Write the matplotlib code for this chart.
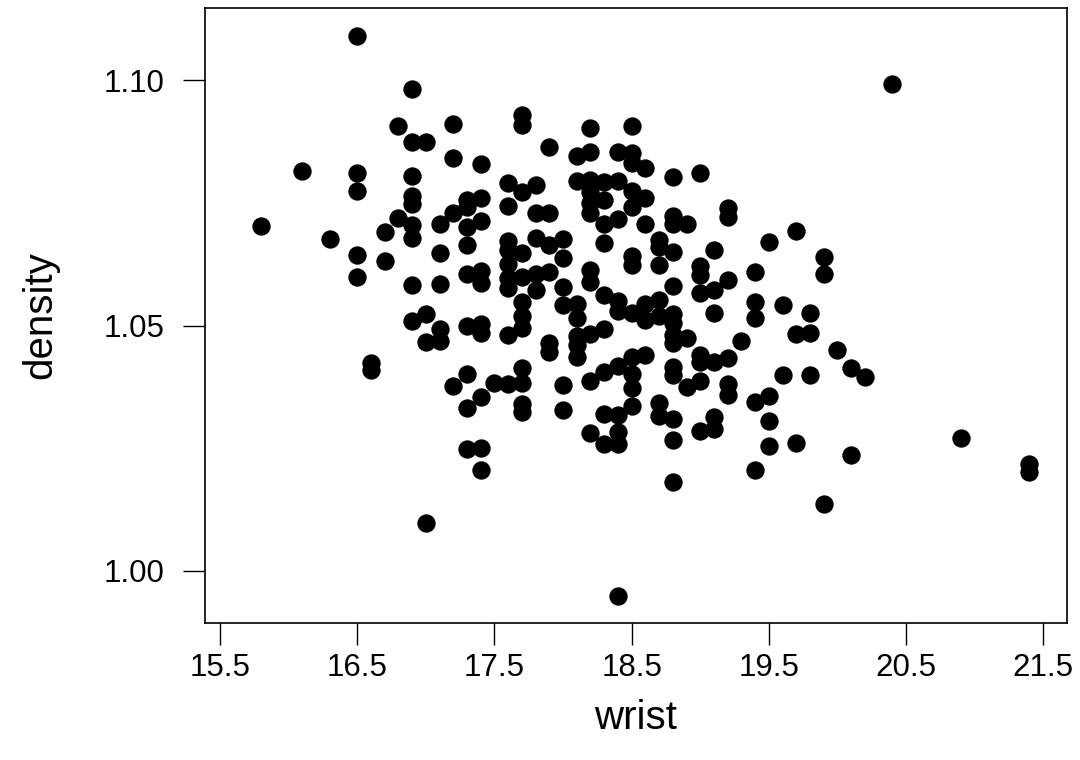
import matplotlib.pyplot as plt

# wrist circumference (cm) and body density (g/cm^3), one row per wrist value
wrist = [
    15.8,
    16.1,
    16.3,
    16.5, 16.5, 16.5, 16.5, 16.5,
    16.6, 16.6,
    16.7, 16.7,
    16.8, 16.8,
    16.9, 16.9, 16.9, 16.9, 16.9, 16.9, 16.9, 16.9, 16.9,
    17.0, 17.0, 17.0, 17.0,
    17.1, 17.1, 17.1, 17.1, 17.1,
    17.2, 17.2, 17.2, 17.2,
    17.3, 17.3, 17.3, 17.3, 17.3, 17.3, 17.3, 17.3, 17.3,
    17.4, 17.4, 17.4, 17.4, 17.4, 17.4, 17.4, 17.4, 17.4, 17.4,
    17.5,
    17.6, 17.6, 17.6, 17.6, 17.6, 17.6, 17.6, 17.6, 17.6,
    17.7, 17.7, 17.7, 17.7, 17.7, 17.7, 17.7, 17.7, 17.7, 17.7, 17.7, 17.7,
    17.8, 17.8, 17.8, 17.8, 17.8,
    17.9, 17.9, 17.9, 17.9, 17.9, 17.9,
    18.0, 18.0, 18.0, 18.0, 18.0, 18.0,
    18.1, 18.1, 18.1, 18.1, 18.1, 18.1, 18.1,
    18.2, 18.2, 18.2, 18.2, 18.2, 18.2, 18.2, 18.2, 18.2, 18.2, 18.2,
    18.3, 18.3, 18.3, 18.3, 18.3, 18.3, 18.3, 18.3, 18.3,
    18.4, 18.4, 18.4, 18.4, 18.4, 18.4, 18.4, 18.4, 18.4, 18.4,
    18.5, 18.5, 18.5, 18.5, 18.5, 18.5, 18.5, 18.5, 18.5, 18.5, 18.5, 18.5,
    18.6, 18.6, 18.6, 18.6, 18.6, 18.6,
    18.7, 18.7, 18.7, 18.7, 18.7, 18.7, 18.7,
    18.8, 18.8, 18.8, 18.8, 18.8, 18.8, 18.8, 18.8, 18.8, 18.8, 18.8, 18.8, 18.8, 18.8,
    18.9, 18.9, 18.9,
    19.0, 19.0, 19.0, 19.0, 19.0, 19.0, 19.0, 19.0,
    19.1, 19.1, 19.1, 19.1, 19.1, 19.1,
    19.2, 19.2, 19.2, 19.2, 19.2, 19.2,
    19.3,
    19.4, 19.4, 19.4, 19.4, 19.4,
    19.5, 19.5, 19.5, 19.5,
    19.6, 19.6,
    19.7, 19.7, 19.7,
    19.8, 19.8, 19.8,
    19.9, 19.9, 19.9,
    20.0,
    20.1, 20.1,
    20.2,
    20.4,
    20.9,
    21.4, 21.4,
]

density = [
    1.0703,
    1.0815,
    1.0677,
    1.1090, 1.0812, 1.0775, 1.0643, 1.0600,
    1.0423, 1.0409,
    1.0691, 1.0632,
    1.0906, 1.0720,
    1.0983, 1.0875, 1.0806, 1.0765, 1.0747, 1.0705, 1.0678, 1.0583, 1.0509,
    1.0875, 1.0523, 1.0467, 1.0098,
    1.0707, 1.0648, 1.0584, 1.0492, 1.0468,
    1.0911, 1.0842, 1.0729, 1.0377,
    1.0756, 1.0742, 1.0700, 1.0664, 1.0606, 1.0499, 1.0401, 1.0331, 1.0249,
    1.0829, 1.0760, 1.0713, 1.0611, 1.0586, 1.0503, 1.0484, 1.0355, 1.0250, 1.0205,
    1.0382,
    1.0791, 1.0743, 1.0673, 1.0654, 1.0625, 1.0597, 1.0576, 1.0481, 1.0381,
    1.0929, 1.0909, 1.0773, 1.0647, 1.0598, 1.0548, 1.0519, 1.0494, 1.0414, 1.0382, 1.0341, 1.0324,
    1.0787, 1.0729, 1.0679, 1.0606, 1.0572,
    1.0864, 1.0729, 1.0664, 1.0610, 1.0464, 1.0447,
    1.0676, 1.0637, 1.0578, 1.0542, 1.0379, 1.0328,
    1.0846, 1.0795, 1.0544, 1.0515, 1.0479, 1.0460, 1.0436,
    1.0902, 1.0854, 1.0797, 1.0773, 1.0750, 1.0730, 1.0613, 1.0588, 1.0483, 1.0387, 1.0280,
    1.0793, 1.0756, 1.0707, 1.0668, 1.0562, 1.0493, 1.0406, 1.0320, 1.0258,
    1.0854, 1.0795, 1.0717, 1.0550, 1.0530, 1.0417, 1.0318, 1.0282, 1.0258, 0.9948,
    1.0906, 1.0851, 1.0832, 1.0774, 1.0741, 1.0642, 1.0623, 1.0525, 1.0436, 1.0401, 1.0372, 1.0336,
    1.0821, 1.0761, 1.0708, 1.0544, 1.0511, 1.0440,
    1.0674, 1.0660, 1.0623, 1.0552, 1.0519, 1.0343, 1.0315,
    1.0803, 1.0723, 1.0707, 1.0649, 1.0581, 1.0523, 1.0506, 1.0481, 1.0464, 1.0416, 1.0399, 1.0309, 1.0267, 1.0181,
    1.0708, 1.0474, 1.0374,
    1.0812, 1.0621, 1.0603, 1.0567, 1.0440, 1.0425, 1.0387, 1.0285,
    1.0654, 1.0572, 1.0526, 1.0425, 1.0314, 1.0290,
    1.0739, 1.0722, 1.0593, 1.0433, 1.0381, 1.0358,
    1.0469,
    1.0610, 1.0548, 1.0515, 1.0345, 1.0206,
    1.0670, 1.0356, 1.0305, 1.0254,
    1.0542, 1.0399,
    1.0693, 1.0482, 1.0261,
    1.0526, 1.0485, 1.0399,
    1.0640, 1.0605, 1.0137,
    1.0451,
    1.0413, 1.0237,
    1.0395,
    1.0992,
    1.0271,
    1.0218, 1.0201,
]

x_ticks = [15.5, 16.5, 17.5, 18.5, 19.5, 20.5, 21.5]
x_tick_labels = ["15.5", "16.5", "17.5", "18.5", "19.5", "20.5", "21.5"]
y_ticks = [1.00, 1.05, 1.10]
y_tick_labels = ["1.00", "1.05", "1.10"]

plt.rcParams['font.family'] = ['Liberation Sans', 'DejaVu Sans']

W, H = 1080, 760
fig = plt.figure(figsize=(W / 100, H / 100), dpi=100)
ax = fig.add_axes([205 / W, 1 - 622.7 / H, (1066.5 - 205) / W, (622.7 - 8.3) / H])

ax.plot(wrist, density, 'o', color='black', markersize=13.2, markeredgewidth=0)

ax.set_xlim(15.39, 21.67)
ax.set_ylim(0.9894, 1.1147)

ax.set_xticks(x_ticks)
ax.set_xticklabels(x_tick_labels)
ax.set_yticks(y_ticks)
ax.set_yticklabels(y_tick_labels)
ax.tick_params(direction='out', length=15.5, width=1.0, labelsize=22.5, color='black')
ax.tick_params(axis='x', pad=6)
ax.tick_params(axis='y', pad=14)

for side in ax.spines.values():
    side.set_linewidth(1.2)

fig.text(635.7 / W, 1 - 729 / H, "wrist", ha='center', va='baseline', fontsize=29)
fig.text(40 / W, 1 - 315 / H, "density", ha='center', va='center', rotation=90, fontsize=29)

fig.savefig('out.png', dpi=100)
